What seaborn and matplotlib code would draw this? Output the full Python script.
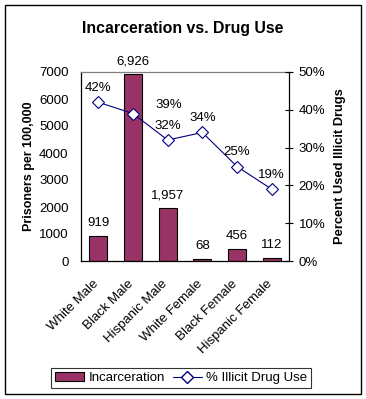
import matplotlib
matplotlib.use("Agg")
import matplotlib.pyplot as plt
import matplotlib.transforms as mtransforms
import numpy as np
import pandas as pd
import seaborn as sns
from matplotlib.lines import Line2D
from matplotlib.patches import Patch, Rectangle
from matplotlib.ticker import FuncFormatter, FixedLocator

# Data
groups = ["White Male", "Black Male", "Hispanic Male",
          "White Female", "Black Female", "Hispanic Female"]
incarceration = [919, 6926, 1957, 68, 456, 112]
drug_use_pct = [42, 39, 32, 34, 25, 19]

BAR = "#993366"
LINE = "#000080"
FS = 9.5

sns.set_theme(style="white", rc={"text.color": "black", "axes.labelcolor": "black",
                                 "xtick.color": "black", "ytick.color": "black"})
plt.rcParams["font.family"] = ["Liberation Sans", "DejaVu Sans"]
plt.rcParams["font.size"] = FS

df = pd.DataFrame({"group": groups, "pos": np.arange(len(groups)),
                   "inc": incarceration, "pct": drug_use_pct})

fig = plt.figure(figsize=(3.66, 3.99), dpi=100)
ax = fig.add_axes([81 / 366, 138 / 399, 208 / 366, 189 / 399])

sns.barplot(data=df, x="pos", y="inc", color=BAR, width=0.52,
            edgecolor="black", linewidth=0.8, saturation=1, ax=ax)
ax.set_ylim(0, 7000)
ax.set_xlim(-0.5, len(groups) - 0.5)
ax.set_yticks(range(0, 7001, 1000))
ax.tick_params(axis="y", length=0, pad=9, labelsize=FS)
ax.set_xticks(df["pos"])
ax.set_xticklabels(groups, rotation=45, ha="right", rotation_mode="anchor")
ax.tick_params(axis="x", which="major", length=0, pad=12, labelsize=FS)
shift = mtransforms.ScaledTranslation(-6 / 100, 0, fig.dpi_scale_trans)
for lab in ax.get_xticklabels():
    lab.set_transform(lab.get_transform() + shift)
ax.xaxis.set_minor_locator(FixedLocator(np.arange(-0.5, len(groups), 1.0)))
ax.tick_params(axis="x", which="minor", length=4, width=0.8,
               direction="out", color="black")
ax.set_xlabel("")
ax.set_ylabel("Prisoners per 100,000", fontweight="bold", fontsize=9)
ax.yaxis.set_label_coords(-0.222, 0.5)
for side in ["left", "bottom"]:
    ax.spines[side].set_color("black")
    ax.spines[side].set_linewidth(0.9)
ax.spines["top"].set_color("#808080")
ax.spines["top"].set_linewidth(0.9)
ax.spines["right"].set_visible(False)

for x, v in zip(df["pos"], df["inc"]):
    ax.annotate(f"{v:,}", (x, v), xytext=(0, 5), textcoords="offset points",
                ha="center", va="bottom", fontsize=FS)

ax2 = ax.twinx()
sns.lineplot(data=df, x="pos", y="pct", color=LINE, linewidth=0.8,
             marker="D", markersize=6, markerfacecolor="white",
             markeredgecolor=LINE, markeredgewidth=0.8, ax=ax2)
ax2.set_ylim(0, 50)
ax2.set_yticks(range(0, 51, 10))
ax2.yaxis.set_major_formatter(FuncFormatter(lambda v, _: f"{v:.0f}%"))
ax2.tick_params(axis="y", direction="inout", length=6, width=0.8,
                color="black", pad=4, labelsize=FS, right=True)
ax2.set_ylabel("Percent Used Illicit Drugs", fontweight="bold", fontsize=9.3)
ax2.yaxis.set_label_coords(1.216, 0.5)
for side in ["left", "top", "bottom"]:
    ax2.spines[side].set_visible(False)
ax2.spines["right"].set_color("black")
ax2.spines["right"].set_linewidth(0.9)
ax2.set_xlim(-0.5, len(groups) - 0.5)

label_offsets = {1: (26, 2)}
for x, v in zip(df["pos"], df["pct"]):
    dx, dy = label_offsets.get(x, (0, 6))
    ax2.annotate(f"{v}%", (x, v), xytext=(dx, dy), textcoords="offset points",
                 ha="center", va="bottom", fontsize=FS)

fig.text(0.5, 1 - 28 / 399, "Incarceration vs. Drug Use", ha="center",
         va="center", fontsize=11.4, fontweight="bold")

handles = [Patch(facecolor=BAR, edgecolor="black", linewidth=0.8),
           Line2D([], [], color=LINE, linewidth=0.8, marker="D", markersize=6,
                  markerfacecolor="white", markeredgecolor=LINE)]
fig.legend(handles, ["Incarceration", "% Illicit Drug Use"],
           loc="center", bbox_to_anchor=(181 / 366, 1 - 378 / 399), ncol=2,
           frameon=True, fancybox=False, edgecolor="black", fontsize=FS,
           handlelength=2.2, handleheight=0.6, handletextpad=0.3,
           columnspacing=0.6, borderpad=0.3).get_frame().set_linewidth(0.8)

fig.patches.append(Rectangle((5 / 366, 5 / 399), 356 / 366, 389 / 399,
                             transform=fig.transFigure, fill=False,
                             edgecolor="black", linewidth=1))

fig.savefig("out.png", dpi=100)
